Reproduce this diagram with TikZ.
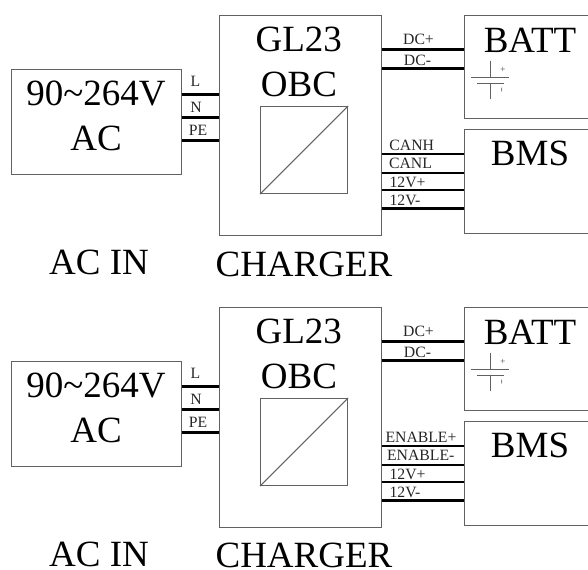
\documentclass[tikz,border=0pt]{standalone}
\usepackage{fontspec}
\setmainfont{Liberation Serif}
\tikzset{
  x=0.75pt,y=-0.75pt,
  box/.style={draw=black!62,line width=0.8pt,inner sep=0pt,anchor=north west},
  thinline/.style={draw=black!62,line width=0.75pt},
  wire/.style={draw=black,line width=2.1pt},
  big/.style={font=\fontsize{27.75pt}{30pt}\selectfont,anchor=base,inner sep=0pt,text=black},
  lab/.style={font=\fontsize{11.8pt}{13pt}\selectfont,anchor=base,inner sep=0pt,text=black!85},
  tiny/.style={font=\fontsize{6.8pt}{7pt}\selectfont,inner sep=0pt,text=black!75},
  tinyminus/.style={font=\fontsize{11pt}{12pt}\selectfont,inner sep=0pt,text=black!45},
}
\newcommand{\panel}[7]{%
\begin{scope}[yshift=#2*-0.75pt]
  \node[box,minimum width=127.5pt,minimum height=79.1pt] (#1ac) at (10.5,68.5) {};
  \node[box,minimum width=121.5pt,minimum height=164.7pt] (#1ch) at (218.5,15) {};
  \node[box,minimum width=65.25pt,minimum height=65.25pt] (#1dc) at (260,106) {};
  \node[box,minimum width=100pt,minimum height=76.9pt] (#1batt) at (463.5,15) {};
  \node[box,minimum width=100pt,minimum height=78pt] (#1bms) at (463.5,129) {};
  \draw[thinline] (#1dc.south west) -- (#1dc.north east);
  \node[big] (#1t1) at (96,105) {90\char`\~264V};
  \node[big] (#1t2) at (96,150) {AC};
  \node[big] (#1t3) at (99,274.8) {\smash{AC IN}};
  \node[big] (#1t4) at (298.7,51.7) {GL23};
  \node[big] (#1t5) at (299,96.2) {OBC};
  \node[big] (#1t6) at (304,#7) {\smash{CHARGER}};
  \node[big] (#1t7) at (530,52) {BATT};
  \node[big] (#1t8) at (530,165) {BMS};
  \coordinate (#1a1) at (0,94.5);
  \coordinate (#1a2) at (0,117.5);
  \coordinate (#1a3) at (0,140.5);
  \draw[wire] (#1ac.east |- #1a1) -- (#1ch.west |- #1a1);
  \draw[wire] (#1ac.east |- #1a2) -- (#1ch.west |- #1a2);
  \draw[wire] (#1ac.east |- #1a3) -- (#1ch.west |- #1a3);
  \coordinate (#1b1) at (0,49.5);
  \coordinate (#1b2) at (0,68.5);
  \draw[wire] (#1ch.east |- #1b1) -- (#1batt.west |- #1b1);
  \draw[wire] (#1ch.east |- #1b2) -- (#1batt.west |- #1b2);
  \coordinate (#1c1) at (0,154);
  \coordinate (#1c2) at (0,173);
  \coordinate (#1c3) at (0,190);
  \coordinate (#1c4) at (0,208.5);
  \draw[wire] (#1ch.east |- #1c1) -- (#1bms.west |- #1c1);
  \draw[wire] (#1ch.east |- #1c2) -- (#1bms.west |- #1c2);
  \draw[wire] (#1ch.east |- #1c3) -- (#1bms.west |- #1c3);
  \draw[wire] (#1ch.east |- #1c4) -- (#1bms.west |- #1c4);
  \node[lab] (#1l1) at (195.5,86) {L};
  \node[lab] (#1l2) at (196,112) {N};
  \node[lab] (#1l3) at (198,135) {PE};
  \node[lab] (#1l4) at (418.5,44) {DC+};
  \node[lab] (#1l5) at (417.5,65) {DC-};
  \node[lab] (#1l6) at (#4,150) {#3};
  \node[lab] (#1l7) at (#6,168.7) {#5};
  \node[lab] (#1l8) at (407.5,187.5) {12V+};
  \node[lab] (#1l9) at (405,205.5) {12V-};
  \draw[thinline] (490.3,60.5) -- (490.3,77);
  \draw[thinline] (471,77) -- (509.3,77);
  \draw[thinline] (477,83) -- (503.5,83);
  \draw[thinline] (490.3,83) -- (490.3,99);
  \node[tiny] (#1p) at (503,70.3) {+};
  \node[tinyminus,rotate=90] (#1m) at (503,90) {-};
\end{scope}}
\begin{document}
\begin{tikzpicture}
\useasboundingbox (0,0) rectangle (588,569);
\panel{u}{0}{CANH}{411.7}{CANL}{410.5}{276.5}
\panel{v}{292}{ENABLE+}{421}{ENABLE-}{420.7}{275.5}
\end{tikzpicture}
\end{document}
